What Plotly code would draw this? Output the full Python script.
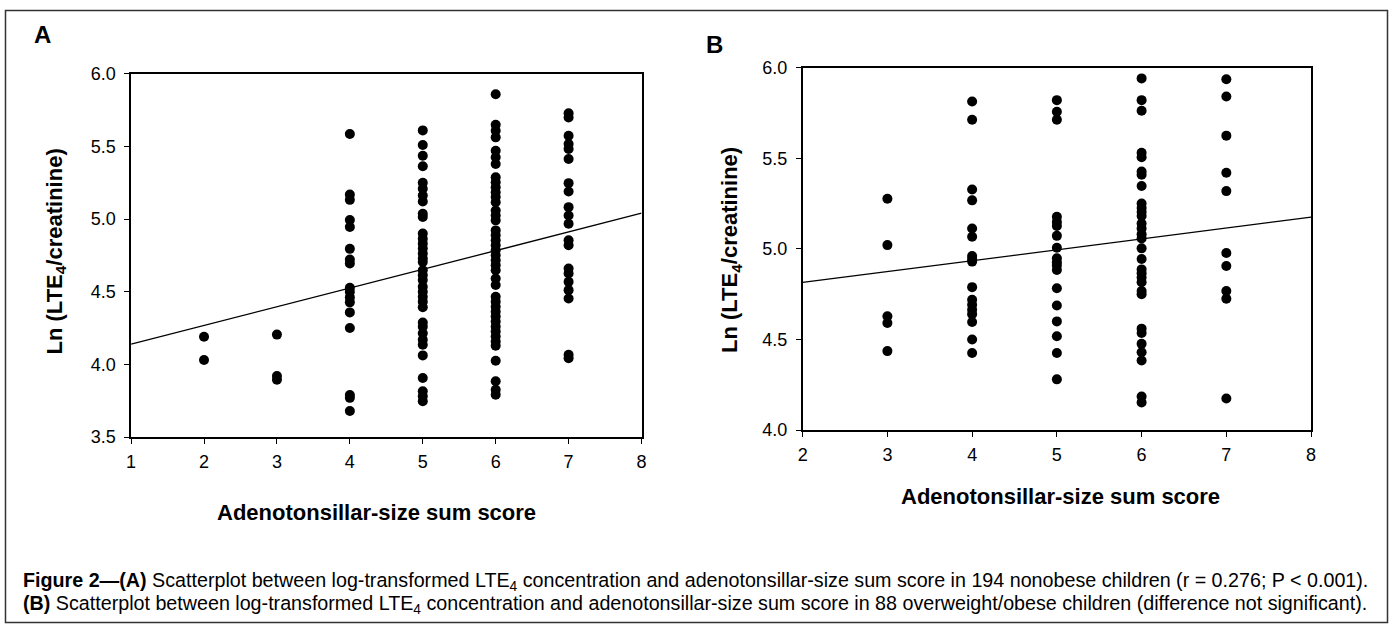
import plotly.graph_objects as go

# ---------------- data ----------------
a_x2 = [4.19, 4.03]
a_x3 = [4.205, 3.92, 3.895]
a_x4 = [5.585, 5.169, 5.132, 4.993, 4.945, 4.795, 4.721, 4.694, 4.527, 4.50,
        4.461, 4.427, 4.358, 4.251, 3.79, 3.77, 3.68]
a_x5 = [5.61, 5.51, 5.436, 5.363, 5.249, 5.208, 5.162, 5.121, 5.037, 5.014,
        4.90, 4.865, 4.831, 4.797, 4.763, 4.728, 4.705, 4.648, 4.614, 4.58,
        4.534, 4.50, 4.466, 4.432, 4.393, 4.288, 4.26, 4.215, 4.169, 4.135,
        4.062, 3.906, 3.815, 3.781, 3.747]
a_x6 = [5.858, 5.648, 5.607, 5.562, 5.47, 5.425, 5.379, 5.288, 5.253, 5.219,
        5.185, 5.151, 5.116, 5.059, 5.025, 4.991, 4.922, 4.888, 4.854, 4.82,
        4.785, 4.751, 4.717, 4.683, 4.648, 4.591, 4.546, 4.466, 4.432, 4.397,
        4.363, 4.329, 4.295, 4.26, 4.226, 4.192, 4.158, 4.128, 4.025, 3.884,
        3.826, 3.792]
a_x7 = [5.728, 5.699, 5.573, 5.516, 5.482, 5.413, 5.247, 5.189, 5.082, 5.025,
        4.968, 4.854, 4.82, 4.66, 4.626, 4.568, 4.511, 4.454, 4.066, 4.043]
a_groups = {2: a_x2, 3: a_x3, 4: a_x4, 5: a_x5, 6: a_x6, 7: a_x7}
a_fit_x = [1, 8]
a_fit_y = [4.14, 5.04]

b_x3 = [5.277, 5.021, 4.628, 4.591, 4.436]
b_x4 = [5.813, 5.713, 5.328, 5.268, 5.113, 5.067, 4.961, 4.944, 4.93, 4.789,
        4.719, 4.692, 4.664, 4.64, 4.597, 4.50, 4.426]
b_x5 = [5.821, 5.757, 5.713, 5.177, 5.149, 5.127, 5.072, 5.006, 4.948, 4.926,
        4.908, 4.884, 4.783, 4.688, 4.60, 4.518, 4.426, 4.28]
b_x6 = [5.941, 5.821, 5.762, 5.53, 5.506, 5.427, 5.409, 5.347, 5.25, 5.226,
        5.204, 5.182, 5.14, 5.113, 5.081, 5.058, 5.003, 4.944, 4.887, 4.866,
        4.842, 4.816, 4.768, 4.75, 4.56, 4.536, 4.476, 4.43, 4.384, 4.185, 4.152]
b_x7 = [5.936, 5.841, 5.625, 5.42, 5.319, 4.977, 4.906, 4.768, 4.725, 4.174]
b_groups = {3: b_x3, 4: b_x4, 5: b_x5, 6: b_x6, 7: b_x7}
b_fit_x = [2, 8]
b_fit_y = [4.815, 5.175]

a_xticks = [1, 2, 3, 4, 5, 6, 7, 8]
a_yticks = [3.5, 4.0, 4.5, 5.0, 5.5, 6.0]
b_xticks = [2, 3, 4, 5, 6, 7, 8]
b_yticks = [4.0, 4.5, 5.0, 5.5, 6.0]

x_title = "Adenotonsillar-size sum score"
y_title = "Ln (LTE<sub>4</sub>/creatinine)"
caption1 = ("<b>Figure 2—(A)</b> Scatterplot between log-transformed LTE<sub>4</sub> concentration "
            "and adenotonsillar-size sum score in 194 nonobese children (r = 0.276; P < 0.001).")
caption2 = ("<b>(B)</b> Scatterplot between log-transformed LTE<sub>4</sub> concentration "
            "and adenotonsillar-size sum score in 88 overweight/obese children (difference not significant).")

# ---------------- figure ----------------
W, H = 1393, 633
FONT = "Liberation Sans, Arial, sans-serif"


def X(x):
    # screen x (px) of the target -> layout x (px)
    return min(max((x - 5) / 0.992, 0.5), W - 0.5)


def Y(y):
    return min(max((y - 9.2) / 0.97, 0.5), H - 0.5)


def px(x):
    return X(x) / W


def py(y):
    return 1 - Y(y) / H


fig = go.Figure()


def flatten(groups):
    xs, ys = [], []
    for k, vals in groups.items():
        xs += [k] * len(vals)
        ys += vals
    return xs, ys


ax, ay = flatten(a_groups)
bx, by = flatten(b_groups)

fig.add_trace(go.Scatter(x=a_fit_x, y=a_fit_y, mode="lines",
                         line=dict(color="black", width=1.3), xaxis="x", yaxis="y",
                         showlegend=False, hoverinfo="skip"))
fig.add_trace(go.Scatter(x=ax, y=ay, mode="markers",
                         marker=dict(color="black", size=10, line=dict(width=0)),
                         xaxis="x", yaxis="y", showlegend=False))
fig.add_trace(go.Scatter(x=b_fit_x, y=b_fit_y, mode="lines",
                         line=dict(color="black", width=1.3), xaxis="x2", yaxis="y2",
                         showlegend=False, hoverinfo="skip"))
fig.add_trace(go.Scatter(x=bx, y=by, mode="markers",
                         marker=dict(color="black", size=10, line=dict(width=0)),
                         xaxis="x2", yaxis="y2", showlegend=False))

axis_common = dict(showline=True, mirror=True, linecolor="black", linewidth=1.5,
                   ticks="outside", ticklen=5, tickwidth=1, tickcolor="black",
                   showgrid=False, zeroline=False,
                   tickfont=dict(family=FONT, size=18, color="black"))

fig.update_layout(
    width=W, height=H,
    margin=dict(l=0, r=0, t=0, b=0),
    paper_bgcolor="white", plot_bgcolor="white",
    xaxis=dict(domain=[px(131), px(641)], range=[1, 8], tickvals=a_xticks,
               ticktext=[str(v) for v in a_xticks], anchor="y",
               ticklabelstandoff=3, **axis_common),
    yaxis=dict(domain=[py(437), py(73)], range=[3.5, 6.0], tickvals=a_yticks,
               ticktext=[f"{v:.1f}" for v in a_yticks], anchor="x",
               ticklabelstandoff=5, **axis_common),
    xaxis2=dict(domain=[px(802), px(1310)], range=[2, 8], tickvals=b_xticks,
                ticktext=[str(v) for v in b_xticks], anchor="y2",
                ticklabelstandoff=3, **axis_common),
    yaxis2=dict(domain=[py(430), py(67)], range=[4.0, 6.0], tickvals=b_yticks,
                ticktext=[f"{v:.1f}" for v in b_yticks], anchor="x2",
                ticklabelstandoff=5, **axis_common),
)

ann = []
title_font = dict(family=FONT, size=22, color="black")
ann.append(dict(text="<b>A</b>", x=px(32), y=py(34), xref="paper", yref="paper",
                xanchor="left", yanchor="middle", showarrow=False,
                font=dict(family=FONT, size=24, color="black")))
ann.append(dict(text="<b>B</b>", x=px(703), y=py(44), xref="paper", yref="paper",
                xanchor="left", yanchor="middle", showarrow=False,
                font=dict(family=FONT, size=24, color="black")))
ann.append(dict(text="<b>" + x_title + "</b>", x=px(376), y=py(513), xref="paper", yref="paper",
                xanchor="center", yanchor="middle", showarrow=False, font=title_font))
ann.append(dict(text="<b>" + x_title + "</b>", x=px(1060), y=py(497), xref="paper", yref="paper",
                xanchor="center", yanchor="middle", showarrow=False, font=title_font))
ann.append(dict(text="<b>" + y_title + "</b>", x=px(56), y=py(251), xref="paper", yref="paper",
                xanchor="center", yanchor="middle", showarrow=False, textangle=-90, font=title_font))
ann.append(dict(text="<b>" + y_title + "</b>", x=px(731), y=py(250), xref="paper", yref="paper",
                xanchor="center", yanchor="middle", showarrow=False, textangle=-90, font=title_font))
cap_font = dict(family=FONT, size=19.7, color="black")
ann.append(dict(text=caption1, x=px(21), y=py(582), xref="paper", yref="paper",
                xanchor="left", yanchor="middle", showarrow=False, font=cap_font, align="left"))
ann.append(dict(text=caption2, x=px(21), y=py(605), xref="paper", yref="paper",
                xanchor="left", yanchor="middle", showarrow=False, font=cap_font, align="left"))
fig.update_layout(annotations=ann)

fig.add_shape(type="rect", xref="paper", yref="paper",
              x0=px(4), x1=px(1390), y0=py(630), y1=py(7),
              line=dict(color="#333333", width=1.5), fillcolor="rgba(0,0,0,0)", layer="below")

fig.write_html("out.html", config={"displayModeBar": False},
               post_script="document.body.style.margin='0px';"
               "document.body.style.overflow='hidden';")
